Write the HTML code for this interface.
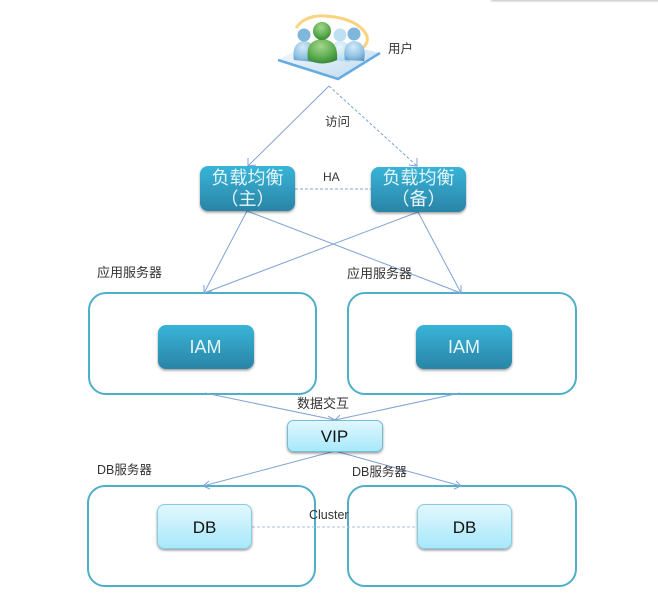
<!DOCTYPE html>
<html><head><meta charset="utf-8">
<style>
html,body{margin:0;padding:0;background:#fff;width:658px;height:600px;overflow:hidden}
svg{display:block}
text{font-family:"Liberation Sans","Noto Sans CJK SC",sans-serif}
</style></head><body>
<svg width="658" height="600" viewBox="0 0 658 600" xmlns="http://www.w3.org/2000/svg">
<defs>
<linearGradient id="t" x1="0" y1="0" x2="0" y2="1"><stop offset="0" stop-color="#38b4d8"/><stop offset="1" stop-color="#2a84a6"/></linearGradient>
<linearGradient id="l" x1="0" y1="0" x2="0" y2="1"><stop offset="0" stop-color="#e2f7fd"/><stop offset="1" stop-color="#a6e8fc"/></linearGradient>
<linearGradient id="pl" x1="0" y1="0" x2="1" y2="1"><stop offset="0" stop-color="#f4f9fd"/><stop offset="1" stop-color="#bcd9ef"/></linearGradient>
<radialGradient id="g" cx=".45" cy=".3" r=".8"><stop offset="0" stop-color="#a3d68f"/><stop offset=".55" stop-color="#5fae50"/><stop offset="1" stop-color="#2b7f30"/></radialGradient>
<radialGradient id="b" cx=".45" cy=".3" r=".85"><stop offset="0" stop-color="#d3ebf8"/><stop offset=".6" stop-color="#8fc0e2"/><stop offset="1" stop-color="#4f8fc0"/></radialGradient>
<radialGradient id="b2" cx=".45" cy=".3" r=".85"><stop offset="0" stop-color="#eaf6fc"/><stop offset="1" stop-color="#a3d1ec"/></radialGradient>
<filter id="s" x="-10%" y="-10%" width="120%" height="130%"><feDropShadow dx="0" dy="1.5" stdDeviation="1.2" flood-color="#000" flood-opacity=".4"/></filter>
<filter id="bl" x="-10%" y="-200%" width="120%" height="500%"><feGaussianBlur stdDeviation="1"/></filter>
</defs>

<rect x="491" y="-2" width="170" height="3" fill="#bbb" filter="url(#bl)"/>

<!-- user icon -->
<path d="M278 60 L300 48 L360 48 L380 53 L339 79 Z" fill="url(#pl)"/>
<path d="M278 60 L338 79 L380 53" fill="none" stroke="#67ace0" stroke-width="2.5"/>
<path d="M296 28 Q305 15 325 16 Q358 18 367 36 Q369 44 360 50" fill="none" stroke="#fbd27e" stroke-width="3"/>
<path d="M294 60 C292 50 295 42 304 41 C314 42 316 50 314 62 Z" fill="url(#b)"/>
<circle cx="304" cy="35" r="6.500" fill="#7fb6dc"/>
<path d="M331 60 C329 50 331 42 340 41 C350 42 352 50 350 62 Z" fill="url(#b2)"/>
<circle cx="340" cy="35" r="6.500" fill="#bfe0f2"/>
<path d="M345 60 C343 50 345 42 354 41 C364 42 366 50 364 61 Z" fill="url(#b)"/>
<circle cx="354" cy="34" r="6.500" fill="#7fb6dc"/>
<path d="M308 60 C306 47 310 40 322 39 C334 40 338 47 337 60 Q322 67 308 60 Z" fill="url(#g)"/>
<circle cx="322" cy="31" r="9" fill="url(#g)"/>

<!-- containers -->
<g fill="#fff" stroke="#4fafc9" stroke-width="2">
<rect x="89" y="293" width="227" height="101" rx="17"/>
<rect x="348" y="293" width="228" height="101" rx="17"/>
<rect x="88" y="486" width="227" height="100" rx="17"/>
<rect x="348" y="486" width="228" height="100" rx="17"/>
</g>

<!-- connectors -->
<g stroke="#7fa3d6" stroke-width="1" fill="none">
<path d="M329 86 L248 166"/>
<path d="M248 158 L248 166 L256 165"/>
<path d="M329 86 L417 166" stroke-dasharray="3 2"/>
<path d="M409 165 L417 166 L417 158"/>
<path d="M295 189 L371 189" stroke-dasharray="3 2"/>
<path d="M247 211 L204 293"/>
<path d="M247 211 L461 293"/>
<path d="M418 212 L204 293"/>
<path d="M418 212 L461 293"/>
<path d="M204 285 L204 293 L212 291"/>
<path d="M461 285 L461 293 L453 292"/>
<path d="M205 393 L335 420"/>
<path d="M460 393 L335 420"/>
<path d="M328 416 L335 420 L340 415"/>
<path d="M335 451 L203 486"/>
<path d="M335 451 L461 486"/>
<path d="M209 481 L203 486 L210 489"/>
<path d="M456 481 L461 486 L454 489"/>
<path d="M252 527 L417 527" stroke="#a9bfe6" stroke-dasharray="3 2"/>
</g>

<!-- boxes -->
<g filter="url(#s)">
<rect x="200" y="166" width="95" height="45" rx="8" fill="url(#t)"/>
<rect x="371" y="167" width="95" height="45" rx="8" fill="url(#t)"/>
<rect x="158" y="325" width="96" height="44" rx="8" fill="url(#t)"/>
<rect x="416" y="325" width="96" height="44" rx="8" fill="url(#t)"/>
<rect x="287.500" y="420.500" width="95" height="31" rx="6" fill="url(#l)" stroke="#74bdd6"/>
<rect x="157.500" y="504.500" width="94" height="44" rx="7" fill="url(#l)" stroke="#8accdf"/>
<rect x="417.500" y="504.500" width="94" height="44" rx="7" fill="url(#l)" stroke="#8accdf"/>
</g>

<!-- box text -->
<g fill="#e4f5fa" font-size="18" text-anchor="middle">
<text x="247.500" y="184">负载均衡</text>
<text x="247.500" y="205">（主）</text>
<text x="418.500" y="184">负载均衡</text>
<text x="418.500" y="205">（备）</text>
<text x="205.500" y="353">IAM</text>
<text x="464" y="353">IAM</text>
</g>
<g fill="#111" font-size="17" text-anchor="middle">
<text x="334.500" y="442">VIP</text>
<text x="204.500" y="533">DB</text>
<text x="464.500" y="533">DB</text>
</g>

<!-- labels -->
<g fill="#333" font-size="13">
<text x="388" y="53" font-size="12.500">用户</text>
<text x="325" y="126" font-size="12.500">访问</text>
<text x="323" y="181" font-size="12">HA</text>
<text x="97" y="277">应用服务器</text>
<text x="347" y="278">应用服务器</text>
<text x="297" y="408">数据交互</text>
<text x="97" y="474" font-size="12.500">DB服务器</text>
<text x="352" y="476" font-size="12.500">DB服务器</text>
<text x="309" y="519" font-size="12.500">Cluster</text>
</g>
</svg>
</body></html>
